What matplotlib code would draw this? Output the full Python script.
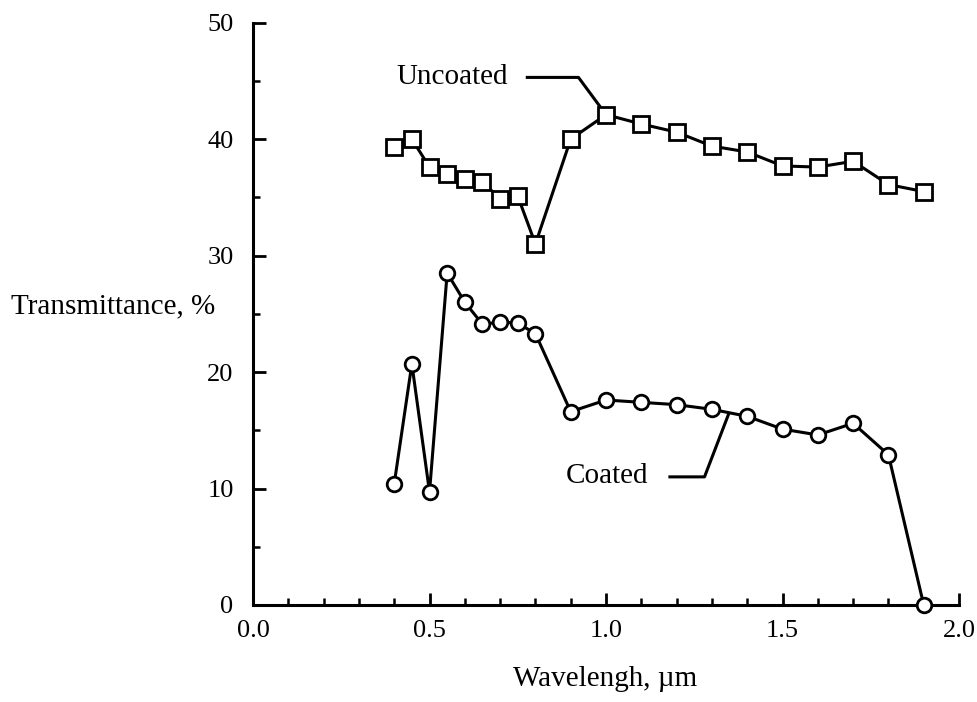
import matplotlib
matplotlib.use("Agg")
import matplotlib.pyplot as plt
from matplotlib.ticker import MultipleLocator

plt.rcParams['font.family'] = ['Liberation Serif', 'DejaVu Serif']

# ---- data ----
uncoated_x = [0.40, 0.45, 0.50, 0.55, 0.60, 0.65, 0.70, 0.75, 0.80, 0.90,
              1.00, 1.10, 1.20, 1.30, 1.40, 1.50, 1.60, 1.70, 1.80, 1.90]
uncoated_y = [39.3, 40.0, 37.6, 37.0, 36.6, 36.3, 34.9, 35.1, 31.0, 40.0,
              42.1, 41.3, 40.6, 39.4, 38.9, 37.7, 37.6, 38.1, 36.1, 35.5]

coated_x = [0.40, 0.45, 0.50, 0.55, 0.60, 0.65, 0.70, 0.75, 0.80, 0.90,
            1.00, 1.10, 1.20, 1.30, 1.40, 1.50, 1.60, 1.70, 1.80, 1.90]
coated_y = [10.4, 20.7, 9.7, 28.5, 26.0, 24.1, 24.3, 24.2, 23.3, 16.6,
            17.6, 17.4, 17.2, 16.8, 16.2, 15.1, 14.6, 15.6, 12.9, 0.0]

x_ticks = [0.0, 0.5, 1.0, 1.5, 2.0]
x_ticklabels = ['0.0', '0.5', '1.0', '1.5', '2.0']
y_ticks = [0, 10, 20, 30, 40, 50]
y_ticklabels = ['0', '10', '20', '30', '40', '50']

x_label = 'Wavelengh, µm'
y_label = 'Transmittance, %'

# ---- figure ----
fig = plt.figure(figsize=(9.78, 7.02), dpi=100)
ax = fig.add_axes([0.2587, 0.1382, 0.7219, 0.8295])

lw = 2.2
ax.plot(uncoated_x, uncoated_y, color='black', lw=lw, marker='s', ms=11.5,
        mfc='white', mec='black', mew=2.0, clip_on=False, zorder=3)
ax.plot(coated_x, coated_y, color='black', lw=lw, marker='o', ms=10.5,
        mfc='white', mec='black', mew=2.0, clip_on=False, zorder=3)

ax.set_xlim(0, 2.0)
ax.set_ylim(0, 50)
ax.set_xticks(x_ticks)
ax.set_xticklabels(x_ticklabels)
ax.set_yticks(y_ticks)
ax.set_yticklabels(y_ticklabels)
ax.xaxis.set_minor_locator(MultipleLocator(0.1))
ax.yaxis.set_minor_locator(MultipleLocator(5))

for s in ['top', 'right']:
    ax.spines[s].set_visible(False)
for s in ['left', 'bottom']:
    ax.spines[s].set_linewidth(2.2)

ax.tick_params(which='major', direction='in', length=9, width=2.0,
               labelsize=19, pad=11)
ax.tick_params(which='minor', direction='in', length=5, width=1.8)
ax.tick_params(axis='y', which='major', pad=14)

ax.set_xlabel(x_label, fontsize=21)
ax.xaxis.set_label_coords(0.4986, -0.105)
ax.set_ylabel(y_label, fontsize=21, rotation=0, ha='center', va='center')
ax.yaxis.set_label_coords(-0.198, 0.512)

# ---- annotation leaders ----
u_idx = uncoated_x.index(1.00)
ax.text(0.722, 45.3, 'Uncoated', fontsize=21, ha='right', va='center')
ax.plot([0.777, 0.922, uncoated_x[u_idx]], [45.3, 45.3, uncoated_y[u_idx]],
        color='black', lw=2.2, zorder=2)

ax.text(1.119, 11.1, 'Coated', fontsize=21, ha='right', va='center')
ax.plot([1.181, 1.279, 1.348], [11.0, 11.0, 16.45],
        color='black', lw=2.2, zorder=2)

fig.savefig('out.png', dpi=100)
